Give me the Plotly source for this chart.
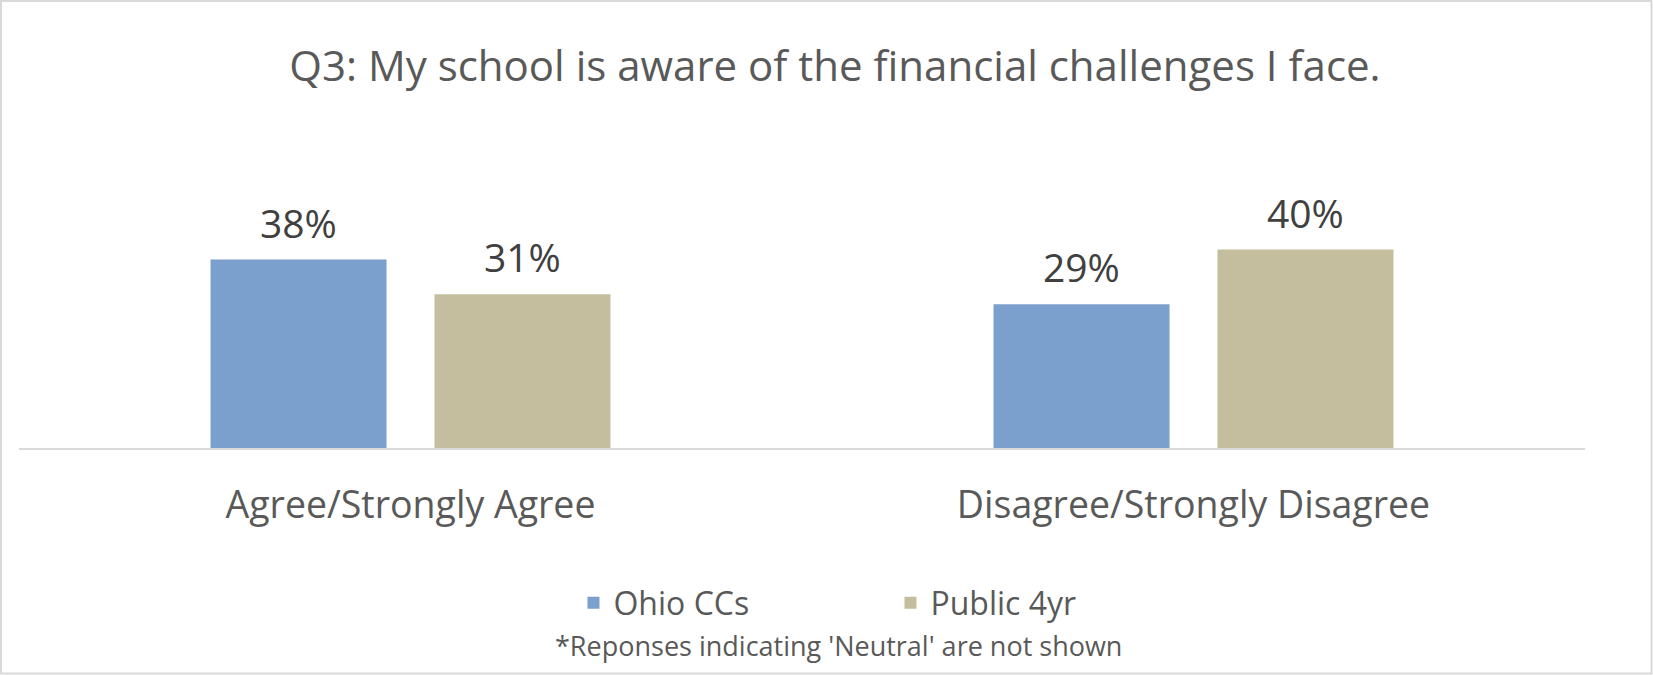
import plotly.graph_objects as go

categories = ["Agree/Strongly Agree", "Disagree/Strongly Disagree"]
series_names = ["Ohio CCs", "Public 4yr"]
ohio_ccs = [0.38, 0.29]
public_4yr = [0.31, 0.40]
colors = ["#7BA0CD", "#C4BE9F"]
title_text = "Q3: My school is aware of the financial challenges I face."
footnote = "*Reponses indicating 'Neutral' are not shown"

W, H = 1653, 675
ML, MR, MT, MB = 19, 68, 200, 227
plot_h = H - MT - MB
pw = W - ML - MR
BARGAP, BARGROUPGAP = 0.428, 0.214

fig = go.Figure()
values = [ohio_ccs, public_4yr]
for name, vals, col in zip(series_names, values, colors):
    fig.add_trace(go.Bar(x=categories, y=vals, name=name, marker=dict(color=col, line=dict(width=0)),
                         hoverinfo="skip"))

slot = (1 - BARGAP) / len(values)
for k, vals in enumerate(values):
    off = (k - (len(values) - 1) / 2) * slot
    for i, v in enumerate(vals):
        fig.add_annotation(x=i + off, y=v, text=f"{round(v*100)}%", showarrow=False,
                           yanchor="bottom", yshift=9,
                           font=dict(family="Open Sans", size=39, color="#404040"))

def py(p):
    return (H - MB - p) / plot_h

def px(p):
    return (p - ML) / pw

fig.add_annotation(x=px(838), y=py(645), xref="paper", yref="paper", text=footnote, showarrow=False,
                   xanchor="center", yanchor="middle",
                   font=dict(family="Open Sans", size=27, color="#595959"))

# outer border
fig.add_shape(type="rect", xref="paper", yref="paper",
              x0=px(1), x1=px(W - 1.5),
              y0=py(H - 1.5), y1=py(1),
              line=dict(color="#D9D9D9", width=2), layer="below")

fig.update_layout(
    width=W, height=H,
    margin=dict(l=ML, r=MR, t=MT, b=MB),
    paper_bgcolor="white", plot_bgcolor="white",
    barmode="group", bargap=BARGAP, bargroupgap=BARGROUPGAP,
    title=dict(text=title_text, x=835 / W, xref="container", xanchor="center", y=1 - 66 / H, yanchor="middle",
               font=dict(family="Open Sans", size=42, color="#595959")),
    xaxis=dict(showline=True, linecolor="#D9D9D9", linewidth=2, ticks="", showgrid=False,
               tickfont=dict(family="Open Sans", size=37.5, color="#595959"), ticklabelstandoff=23),
    yaxis=dict(range=[0, 0.5], visible=False, showgrid=False, zeroline=False),
    legend=dict(orientation="h", x=0.5565, xanchor="center", y=py(603), yanchor="middle",
                font=dict(family="Open Sans", size=32, color="#595959"), entrywidth=272, entrywidthmode="pixels",
                traceorder="normal"),
    showlegend=True,
)

fig.write_html("out.html", config={"displayModeBar": False},
               post_script="document.body.style.margin='0';document.body.style.overflow='hidden';")
